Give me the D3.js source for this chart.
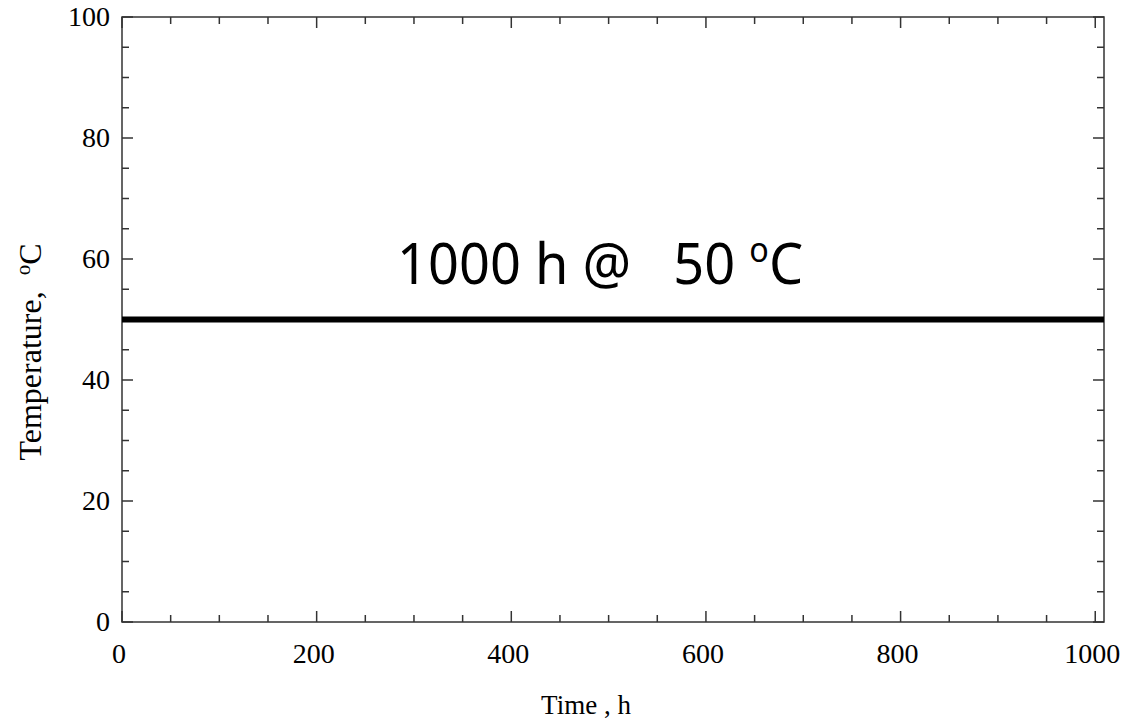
<!DOCTYPE html>
<html>
<head>
<meta charset="utf-8">
<script src="https://cdn.jsdelivr.net/npm/d3@7/dist/d3.min.js"></script>
<style>
  body { margin: 0; background: #fff; }
  svg { display: block; }
</style>
</head>
<body>
<svg id="chart" width="1126" height="722"></svg>
<script>
// data
const timeValues = [0, 1009];
const tempValues = [50, 50];
const xMajorTicks = [0, 200, 400, 600, 800, 1000];
const yMajorTicks = [0, 20, 40, 60, 80, 100];
const annotation = ['1000 h @   50 ', 'o', 'C'];

const width = 1126, height = 722;
const margin = { top: 17, right: 22, bottom: 100, left: 122 };
const innerW = width - margin.left - margin.right;
const innerH = height - margin.top - margin.bottom;

const svg = d3.select('#chart');
const g = svg.append('g').attr('transform', `translate(${margin.left},${margin.top})`);

const x = d3.scaleLinear().domain([0, 1009]).range([0, innerW]);
const y = d3.scaleLinear().domain([0, 100]).range([innerH, 0]);

const xMinor = d3.range(0, 1001, 50).filter(v => !xMajorTicks.includes(v));
const yMinor = d3.range(0, 101, 5).filter(v => !yMajorTicks.includes(v));

const axisColor = '#333';
const serif = '"Liberation Serif", "Times New Roman", serif';

// frame
g.append('rect')
    .attr('width', innerW)
    .attr('height', innerH)
    .attr('fill', 'none')
    .attr('stroke', axisColor)
    .attr('stroke-width', 1.5);

// tick marks pointing inward, mirrored on all four sides
function drawTicks(vals, len) {
    vals.forEach(v => {
        const px = x(v);
        g.append('line').attr('x1', px).attr('x2', px).attr('y1', innerH).attr('y2', innerH - len);
        g.append('line').attr('x1', px).attr('x2', px).attr('y1', 0).attr('y2', len);
    });
}
function drawYTicks(vals, len) {
    vals.forEach(v => {
        const py = y(v);
        g.append('line').attr('x1', 0).attr('x2', len).attr('y1', py).attr('y2', py);
        g.append('line').attr('x1', innerW).attr('x2', innerW - len).attr('y1', py).attr('y2', py);
    });
}
drawTicks(xMajorTicks, 11);
drawTicks(xMinor, 7);
drawYTicks(yMajorTicks, 11);
drawYTicks(yMinor, 7);
g.selectAll('line').attr('stroke', axisColor).attr('stroke-width', 1.5);

// tick labels
g.selectAll('text.xlab')
    .data(xMajorTicks)
    .join('text')
    .attr('class', 'xlab')
    .attr('x', d => x(d) - 3)
    .attr('y', innerH + 41)
    .attr('text-anchor', 'middle')
    .style('font-family', serif)
    .style('font-size', '28px')
    .text(d => d);

g.selectAll('text.ylab')
    .data(yMajorTicks)
    .join('text')
    .attr('class', 'ylab')
    .attr('x', -12)
    .attr('y', d => y(d) + 9)
    .attr('text-anchor', 'end')
    .style('font-family', serif)
    .style('font-size', '28px')
    .text(d => d);

// axis titles
svg.append('text')
    .attr('x', 586)
    .attr('y', 714)
    .attr('text-anchor', 'middle')
    .style('font-family', serif)
    .style('font-size', '27px')
    .style('white-space', 'pre')
    .text('Time , h');

const yTitle = svg.append('text')
    .attr('transform', 'translate(41,352) rotate(-90)')
    .attr('text-anchor', 'middle')
    .style('font-family', serif)
    .style('font-size', '32px')
    .style('white-space', 'pre');
yTitle.append('tspan').text('Temperature,  ');
yTitle.append('tspan').attr('dy', -11).style('font-size', '21px').text('o');
yTitle.append('tspan').attr('dy', 11).text('C');

// the series
const line = d3.line()
    .x((d, i) => x(timeValues[i]))
    .y(d => y(d));

g.append('path')
    .datum(tempValues)
    .attr('d', line)
    .attr('fill', 'none')
    .attr('stroke', '#000')
    .attr('stroke-width', 6);

// annotation
const note = g.append('text')
    .attr('transform', `translate(${397 - margin.left},${284 - margin.top}) scale(0.95,1)`)
    .style('font-family', '"Noto Sans", "Open Sans", sans-serif')
    .style('font-size', '57px')
    .style('white-space', 'pre');
note.append('tspan').text(annotation[0]);
note.append('tspan').attr('dy', -22).style('font-size', '34px').text(annotation[1]);
note.append('tspan').attr('dy', 22).text(annotation[2]);
</script>
</body>
</html>
